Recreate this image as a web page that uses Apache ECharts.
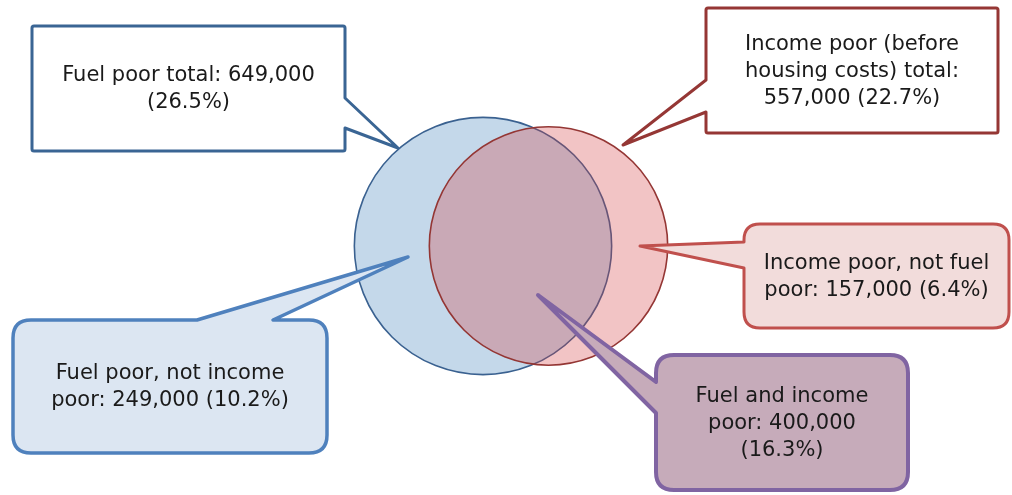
<!DOCTYPE html>
<html>
<head>
<meta charset="utf-8">
<script src="https://cdn.jsdelivr.net/npm/echarts@6/dist/echarts.min.js"></script>
<style>
html, body { margin: 0; padding: 0; background: #fff; }
#chart { width: 1012px; height: 495px; }
</style>
</head>
<body>
<div id="chart"></div>
<script>
// the two sets, totals in thousands of households
const setNames = ["Fuel poor", "Income poor (before housing costs)"]
const setTotals = [649, 557]
const setCentreX = [483, 548.5]
const setCentreY = [246, 246]

// callout texts, in drawing order
const calloutTexts = [
	"Fuel poor total: 649,000\n(26.5%)",
	"Income poor (before\nhousing costs) total:\n557,000 (22.7%)",
	"Income poor, not fuel\npoor: 157,000 (6.4%)",
	"Fuel poor, not income\npoor: 249,000 (10.2%)",
	"Fuel and income\npoor: 400,000\n(16.3%)",
]

// px per sqrt(thousand) so circle area follows the total
const radiusScale = 5.05

const chart = echarts.init(document.getElementById("chart"))

// box with a wedge pointer cut into one edge
const calloutPath = (x, y, w, h, r, edge, b1, b2, tip) => {
	const x2 = x + w
	const y2 = y + h
	let p = `M${x + r},${y}`
	if (edge === "top") p += ` L${b1},${y} L${tip[0]},${tip[1]} L${b2},${y}`
	p += ` L${x2 - r},${y} Q${x2},${y} ${x2},${y + r}`
	if (edge === "right") p += ` L${x2},${b1} L${tip[0]},${tip[1]} L${x2},${b2}`
	p += ` L${x2},${y2 - r} Q${x2},${y2} ${x2 - r},${y2}`
	p += ` L${x + r},${y2} Q${x},${y2} ${x},${y2 - r}`
	if (edge === "left") p += ` L${x},${b2} L${tip[0]},${tip[1]} L${x},${b1}`
	p += ` L${x},${y + r} Q${x},${y} ${x + r},${y} Z`
	return p
}

const boxes = [
	{ x: 32, y: 26, w: 313, h: 125, r: 2, edge: "right", b1: 98, b2: 128, tip: [398, 148], stroke: "#3a6594", fill: "#ffffff", lw: 3 },
	{ x: 706, y: 8, w: 292, h: 125, r: 2, edge: "left", b1: 80, b2: 112, tip: [623, 145], stroke: "#953735", fill: "#ffffff", lw: 3 },
	{ x: 744, y: 224, w: 265, h: 104, r: 16, edge: "left", b1: 242, b2: 268, tip: [640, 246], stroke: "#c0504d", fill: "#f2dcdb", lw: 3 },
	{ x: 13, y: 320, w: 314, h: 133, r: 18, edge: "top", b1: 197, b2: 273, tip: [408, 257], stroke: "#4f81bd", fill: "#dce6f2", lw: 3.5 },
	{ x: 656, y: 355, w: 252, h: 135, r: 18, edge: "left", b1: 382, b2: 413, tip: [538, 295], stroke: "#8064a2", fill: "#c6abba", lw: 4 },
]

const circleFills = ["#c4d8ea", "rgba(212, 58, 62, 0.3)"]
const circleStrokes = ["#3a6190", "#943634"]

const options = {
	animation: false,
	grid: { left: 0, right: 0, top: 0, bottom: 0 },
	xAxis: { type: "value", min: 0, max: 1012, show: false },
	yAxis: { type: "value", min: 0, max: 495, inverse: true, show: false },
	series: [
		{
			type: "custom",
			name: "sets",
			z: 2,
			data: setTotals.map((v, i) => [setCentreX[i], setCentreY[i], v, setNames[i]]),
			renderItem: (params, api) => {
				const c = api.coord([api.value(0), api.value(1)])
				const r = api.size([radiusScale * Math.sqrt(api.value(2)), 0])[0]
				const i = params.dataIndex
				return {
					type: "circle",
					shape: { cx: c[0], cy: c[1], r: r },
					style: { fill: circleFills[i], stroke: circleStrokes[i], lineWidth: 1.6 },
				}
			},
		},
		{
			type: "custom",
			name: "callouts",
			z: 5,
			silent: true,
			data: calloutTexts.map((t, i) => [i]),
			renderItem: (params, api) => {
				const b = boxes[params.dataIndex]
				return {
					type: "group",
					children: [
						{
							type: "path",
							shape: { pathData: calloutPath(b.x, b.y, b.w, b.h, b.r, b.edge, b.b1, b.b2, b.tip) },
							style: { fill: b.fill, stroke: b.stroke, lineWidth: b.lw, lineJoin: "round" },
						},
						{
							type: "text",
							x: b.x + b.w / 2,
							y: b.y + b.h / 2 + 1,
							style: {
								text: calloutTexts[params.dataIndex],
								fill: "#1a1a1a",
								font: "21px 'DejaVu Sans'",
								lineHeight: 27,
								align: "center",
								verticalAlign: "middle",
							},
						},
					],
				}
			},
		},
	],
}

chart.setOption(options)
</script>
</body>
</html>
